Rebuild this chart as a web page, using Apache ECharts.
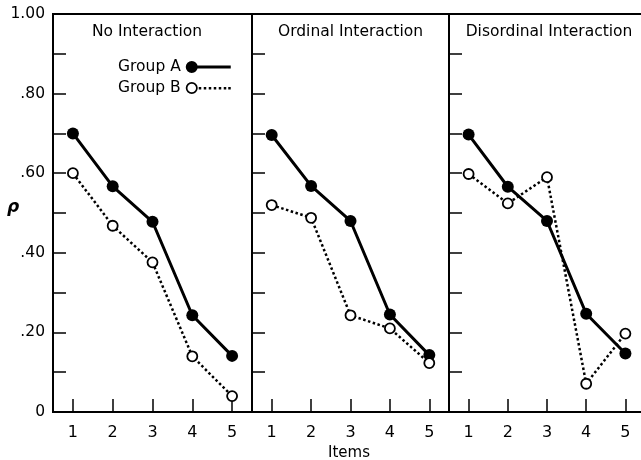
<!DOCTYPE html>
<html>
<head>
<meta charset="utf-8">
<script src="https://cdn.jsdelivr.net/npm/echarts@6/dist/echarts.min.js"></script>
<style>
html,body{margin:0;padding:0;background:#fff;}
#chart{width:641px;height:460px;}
</style>
</head>
<body>
<div id="chart"></div>
<script>
// ---- data ----
const items = ['1', '2', '3', '4', '5'];
const panelTitles = ['No Interaction', 'Ordinal Interaction', 'Disordinal Interaction'];
const groupNames = ['Group A', 'Group B'];
const noInteractionA = [0.700, 0.567, 0.478, 0.243, 0.141];
const noInteractionB = [0.600, 0.468, 0.376, 0.140, 0.040];
const ordinalA = [0.696, 0.568, 0.480, 0.245, 0.143];
const ordinalB = [0.520, 0.488, 0.243, 0.210, 0.123];
const disordinalA = [0.697, 0.566, 0.480, 0.247, 0.147];
const disordinalB = [0.598, 0.524, 0.590, 0.071, 0.197];
const yTickValues = [0, 0.2, 0.4, 0.6, 0.8, 1.0];
const yTickLabels = ['0', '.20', '.40', '.60', '.80', '1.00'];
const xAxisTitle = 'Items';
const yAxisTitle = 'ρ';

// ---- layout / style ----
const FONT = 'DejaVu Sans';
const panelA = [noInteractionA, ordinalA, disordinalA];
const panelB = [noInteractionB, ordinalB, disordinalB];
const grids = [
  { left: 53, top: 14, width: 199, height: 398 },
  { left: 252, top: 14, width: 197, height: 398 },
  { left: 449, top: 14, width: 196, height: 398 }
];
const titleCenters = [147, 350.5, 549];

function yLabel(v) {
  for (let i = 0; i < yTickValues.length; i++) {
    if (Math.abs(yTickValues[i] - v) < 1e-6) return yTickLabels[i];
  }
  return '';
}

const option = {
  animation: false,
  backgroundColor: '#fff',
  title: panelTitles.map((t, i) => ({
    text: t,
    left: titleCenters[i],
    top: 24,
    padding: 0,
    textAlign: 'center',
    textStyle: { fontFamily: FONT, fontSize: 15.5, fontWeight: 'normal', color: '#000' }
  })),
  legend: {
    orient: 'vertical',
    left: 118,
    top: 59,
    padding: 0,
    itemGap: 5,
    itemWidth: 45,
    itemHeight: 12,
    align: 'right',
    selectedMode: false,
    textStyle: { fontFamily: FONT, fontSize: 15.5, color: '#000' },
    data: [
      {
        name: groupNames[0],
        icon: 'path://M0,6 A6,6 0 1,1 12,6 A6,6 0 1,1 0,6 Z M6,4.5 L45,4.5 L45,7.5 L6,7.5 Z',
        itemStyle: { color: '#000', borderWidth: 0 }
      },
      {
        name: groupNames[1],
        icon: 'path://M0,6 A6,6 0 1,1 12,6 A6,6 0 1,1 0,6 Z M1.7,6 A4.3,4.3 0 1,0 10.3,6 A4.3,4.3 0 1,0 1.7,6 Z ' +
              'M13,5 L15.5,5 L15.5,7.5 L13,7.5 Z M18,5 L20.5,5 L20.5,7.5 L18,7.5 Z M23,5 L25.5,5 L25.5,7.5 L23,7.5 Z ' +
              'M28,5 L30.5,5 L30.5,7.5 L28,7.5 Z M33,5 L35.5,5 L35.5,7.5 L33,7.5 Z M38,5 L40.5,5 L40.5,7.5 L38,7.5 Z M42.5,5 L45,5 L45,7.5 L42.5,7.5 Z',
        itemStyle: { color: '#000', borderWidth: 0 }
      }
    ]
  },
  graphic: [
    {
      type: 'text',
      left: 7,
      top: 199,
      style: { text: yAxisTitle, font: 'italic bold 17px "DejaVu Sans"', fill: '#000' }
    },
    {
      type: 'text',
      x: 349,
      y: 453,
      style: {
        text: xAxisTitle, font: '15px "DejaVu Sans"', fill: '#000',
        align: 'center', verticalAlign: 'middle', textAlign: 'center', textVerticalAlign: 'middle'
      }
    }
  ],
  grid: grids.map(g => Object.assign({
    show: true, borderColor: '#000', borderWidth: 2, backgroundColor: 'transparent',
    containLabel: false, outerBoundsMode: 'none'
  }, g)),
  xAxis: grids.map((g, i) => ({
    type: 'category',
    gridIndex: i,
    data: items,
    boundaryGap: true,
    axisLine: { show: true, lineStyle: { color: '#000', width: 2 } },
    axisTick: { show: true, inside: true, alignWithLabel: true, length: 13, lineStyle: { color: '#000', width: 1.5 } },
    axisLabel: { show: true, margin: 13, fontFamily: FONT, fontSize: 16, color: '#000' },
    splitLine: { show: false }
  })),
  yAxis: grids.map((g, i) => ({
    type: 'value',
    gridIndex: i,
    min: 0,
    max: 1,
    interval: 0.1,
    axisLine: { show: true, lineStyle: { color: '#000', width: 2 } },
    axisTick: { show: true, inside: true, length: 13, lineStyle: { color: '#000', width: 1.5 } },
    axisLabel: { show: i === 0, margin: 8, fontFamily: FONT, fontSize: 15.5, color: '#000', formatter: yLabel },
    splitLine: { show: false }
  })),
  series: []
};

grids.forEach((g, i) => {
  option.series.push({
    name: groupNames[0],
    type: 'line',
    xAxisIndex: i,
    yAxisIndex: i,
    data: panelA[i],
    symbol: 'circle',
    symbolSize: 12,
    itemStyle: { color: '#000', borderWidth: 0 },
    lineStyle: { color: '#000', width: 3 },
    z: 2
  });
  option.series.push({
    name: groupNames[1],
    type: 'line',
    xAxisIndex: i,
    yAxisIndex: i,
    data: panelB[i],
    symbol: 'circle',
    symbolSize: 10,
    showAllSymbol: true,
    itemStyle: { color: '#fff', borderColor: '#000', borderWidth: 1.8 },
    lineStyle: { color: '#000', width: 2.5, type: [2.5, 2.5] },
    z: 3
  });
});

const chart = echarts.init(document.getElementById('chart'), null, { renderer: 'canvas' });
chart.setOption(option);
</script>
</body>
</html>
